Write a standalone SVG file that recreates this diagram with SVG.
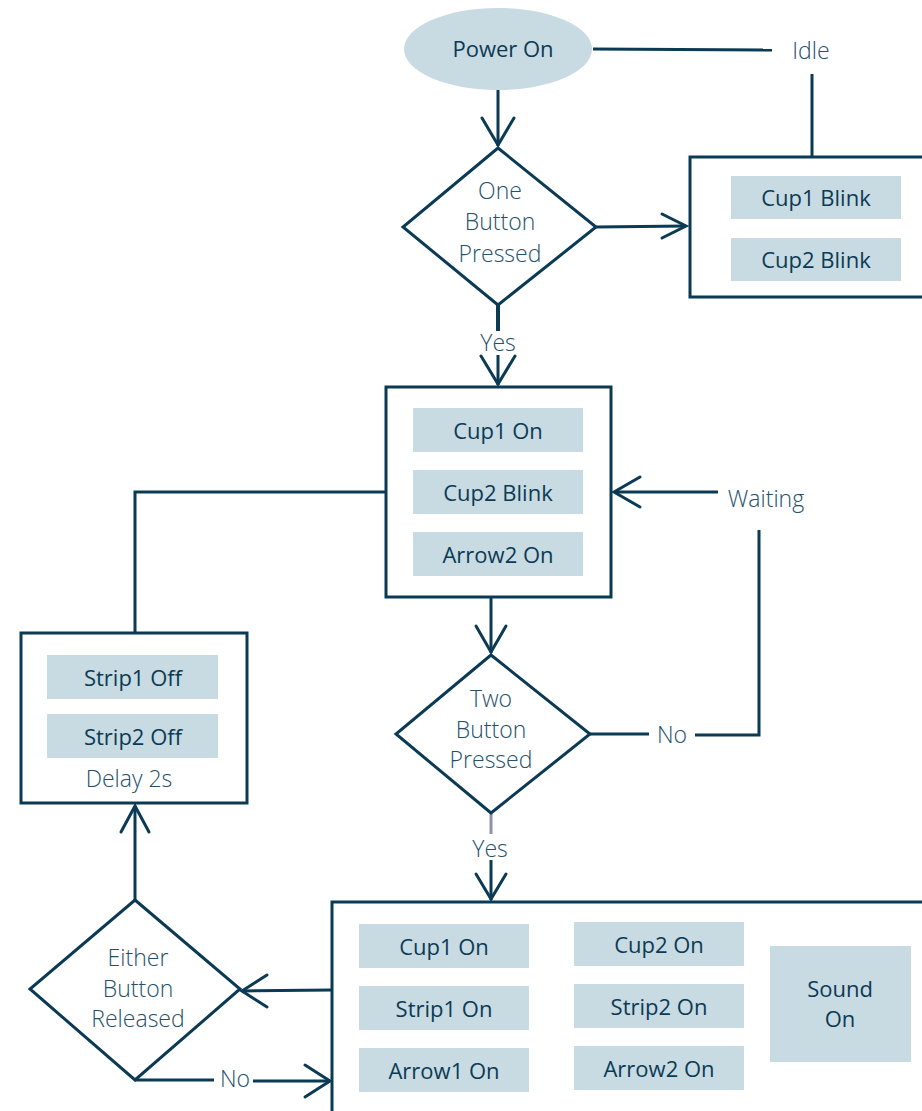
<svg xmlns="http://www.w3.org/2000/svg" width="922" height="1111" viewBox="0 0 922 1111">
<style>
.box{fill:#fff;stroke:#0b3a55;stroke-width:3}
.dia{fill:#fff;stroke:#0b3a55;stroke-width:3;stroke-linejoin:miter}
.item{fill:#c8dae2}
.t{font-family:"Open Sans","Noto Sans",sans-serif;font-size:22px;fill:#0b3a55;text-anchor:middle;dominant-baseline:central}
.l{font-family:"Open Sans","Noto Sans",sans-serif;font-weight:300;font-size:23px;fill:#24506b;text-anchor:middle;dominant-baseline:central}
.c{fill:none;stroke:#0b3a55;stroke-width:3}
.h{fill:none;stroke:#0b3a55;stroke-width:3;stroke-linecap:round}
</style>
<rect width="922" height="1111" fill="#fff"/>
<g id="connectors">
<path class="c" d="M593 49 L772 50"/>
<path class="c" d="M812 74 L812 157"/>
<path class="c" d="M498 90 L498 146"/>
<path class="h" d="M482 118 L498 145 L514 118"/>
<path class="c" d="M596 227 L686 226"/>
<path class="h" d="M662 214 L686 226 L662 238"/>
<path class="c" d="M498 305 L498 331" style="stroke-width:4"/>
<path class="c" d="M498 355 L498 385"/>
<path class="h" d="M481 356 L498 384 L515 356"/>
<path class="c" d="M386 492 L135 492 L135 633"/>
<path class="c" d="M718 492 L614 492"/>
<path class="h" d="M640 477 L614 492 L640 507"/>
<path class="c" d="M759 530 L759 735 L695 735"/>
<path class="c" d="M649 734 L590 734"/>
<path class="c" d="M491 598 L491 653"/>
<path class="h" d="M476 626 L491 652 L506 626"/>
<path class="c" d="M491 814 L491 834" style="stroke:#8d91aa"/>
<path class="c" d="M491 860 L491 900"/>
<path class="h" d="M476 874 L491 899 L506 874"/>
<path class="c" d="M135 900 L135 806"/>
<path class="h" d="M121 832 L135 806 L149 832"/>
<path class="c" d="M332 990 L242 991"/>
<path class="h" d="M267 975 L242 991 L267 1007"/>
<path class="c" d="M135 1080 L214 1080"/>
<path class="c" d="M253 1081 L330 1081"/>
<path class="h" d="M305 1065 L330 1081 L305 1097"/>
</g>
<g id="power-on">
<ellipse cx="498" cy="49" rx="94" ry="41" fill="#c8dae2"/>
<text class="t" x="503" y="48">Power On</text>
</g>
<g id="label-idle"><text class="l" x="811" y="50">Idle</text></g>
<g id="one-button">
<polygon class="dia" points="498,148 596,227 498,305 403,227"/>
<text class="l" x="500" y="190">One</text>
<text class="l" x="500" y="221">Button</text>
<text class="l" x="500" y="253">Pressed</text>
</g>
<g id="idle-box">
<rect class="box" x="690" y="157" width="240" height="140"/>
<rect class="item" x="731" y="176" width="170" height="43"/>
<text class="t" x="816" y="197">Cup1 Blink</text>
<rect class="item" x="731" y="238" width="170" height="43"/>
<text class="t" x="816" y="259">Cup2 Blink</text>
</g>
<g id="label-yes1"><text class="l" x="498" y="342">Yes</text></g>
<g id="waiting-box">
<rect class="box" x="386" y="387" width="225" height="210"/>
<rect class="item" x="413" y="408" width="170" height="44"/>
<text class="t" x="498" y="430">Cup1 On</text>
<rect class="item" x="413" y="470" width="170" height="44"/>
<text class="t" x="498" y="492">Cup2 Blink</text>
<rect class="item" x="413" y="532" width="170" height="44"/>
<text class="t" x="498" y="554">Arrow2 On</text>
</g>
<g id="label-waiting"><text class="l" x="766" y="498">Waiting</text></g>
<g id="two-button">
<polygon class="dia" points="491,655 590,734 491,813 396,734"/>
<text class="l" x="491" y="698">Two</text>
<text class="l" x="491" y="729">Button</text>
<text class="l" x="491" y="759">Pressed</text>
</g>
<g id="label-no1"><text class="l" x="672" y="734">No</text></g>
<g id="label-yes2"><text class="l" x="490" y="848">Yes</text></g>
<g id="delay-box">
<rect class="box" x="21" y="633" width="226" height="170"/>
<rect class="item" x="47" y="655" width="171" height="44"/>
<text class="t" x="133" y="677">Strip1 Off</text>
<rect class="item" x="47" y="714" width="171" height="44"/>
<text class="t" x="133" y="736">Strip2 Off</text>
<text class="l" x="129" y="778">Delay 2s</text>
</g>
<g id="either-button">
<polygon class="dia" points="135,900 240,989 135,1080 30,989"/>
<text class="l" x="138" y="957">Either</text>
<text class="l" x="138" y="988">Button</text>
<text class="l" x="138" y="1018">Released</text>
</g>
<g id="label-no2"><text class="l" x="235" y="1078">No</text></g>
<g id="on-box">
<rect class="box" x="332" y="902" width="600" height="215"/>
<rect class="item" x="359" y="924" width="170" height="44"/>
<text class="t" x="444" y="946">Cup1 On</text>
<rect class="item" x="359" y="986" width="170" height="44"/>
<text class="t" x="444" y="1008">Strip1 On</text>
<rect class="item" x="359" y="1048" width="170" height="44"/>
<text class="t" x="444" y="1070">Arrow1 On</text>
<rect class="item" x="574" y="922" width="170" height="44"/>
<text class="t" x="659" y="944">Cup2 On</text>
<rect class="item" x="574" y="984" width="170" height="44"/>
<text class="t" x="659" y="1006">Strip2 On</text>
<rect class="item" x="574" y="1046" width="170" height="44"/>
<text class="t" x="659" y="1068">Arrow2 On</text>
<rect class="item" x="770" y="946" width="141" height="116"/>
<text class="t" x="840" y="988">Sound</text>
<text class="t" x="840" y="1018">On</text>
</g>
</svg>
